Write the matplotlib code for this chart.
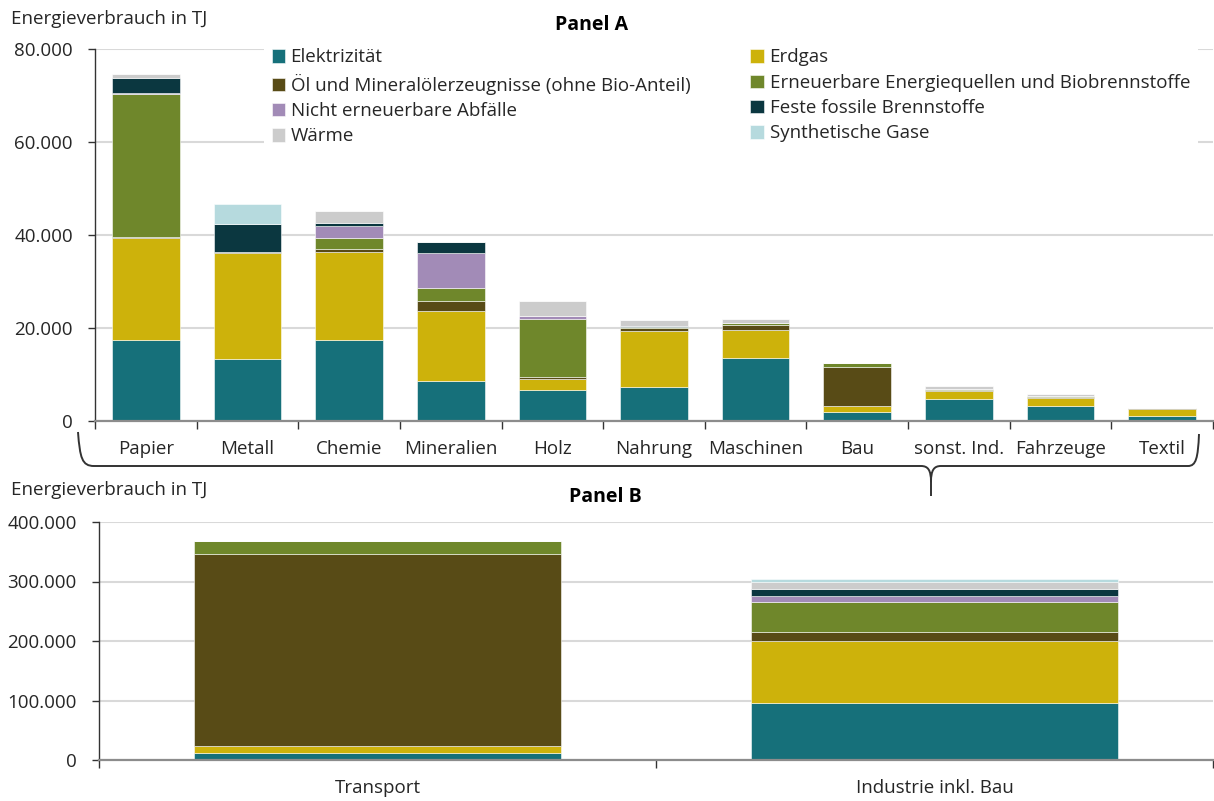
import numpy as np
import matplotlib
matplotlib.use("Agg")
import matplotlib.pyplot as plt
from matplotlib.path import Path
from matplotlib.patches import PathPatch
from matplotlib.ticker import FuncFormatter, FixedLocator

plt.rcParams["font.family"] = ["Open Sans", "DejaVu Sans"]

# Panel A: Industriezweige
branchen = ["Papier", "Metall", "Chemie", "Mineralien", "Holz", "Nahrung",
            "Maschinen", "Bau", "sonst. Ind.", "Fahrzeuge", "Textil"]
elektrizitaet_a = [17400, 13300, 17350, 8600, 6700, 7400, 13500, 1900, 4700, 3200, 1100]
erdgas_a = [22000, 22800, 19000, 15100, 2400, 12000, 6100, 1300, 1700, 1800, 1550]
oel_a = [200, 300, 600, 2200, 300, 500, 1100, 8500, 200, 100, 50]
erneuerbar_a = [30800, 0, 2500, 2700, 12500, 300, 400, 800, 300, 200, 100]
abfaelle_a = [100, 0, 2400, 7600, 700, 100, 0, 0, 0, 0, 0]
fest_fossil_a = [3300, 5900, 700, 2300, 0, 200, 0, 0, 0, 0, 0]
waerme_a = [800, 0, 2700, 0, 3100, 1300, 900, 0, 600, 600, 0]
synth_gase_a = [0, 4400, 0, 0, 0, 0, 0, 0, 0, 0, 0]

# Panel B: Sektoren
sektoren = ["Transport", "Industrie inkl. Bau"]
elektrizitaet_b = [12300, 95200]
erdgas_b = [11200, 105300]
oel_b = [323300, 14100]
erneuerbar_b = [21300, 50900]
abfaelle_b = [0, 10700]
fest_fossil_b = [0, 11200]
waerme_b = [0, 12300]
synth_gase_b = [0, 4500]

traeger = ["Elektrizität", "Öl und Mineralölerzeugnisse (ohne Bio-Anteil)",
           "Nicht erneuerbare Abfälle", "Wärme", "Erdgas",
           "Erneuerbare Energiequellen und Biobrennstoffe",
           "Feste fossile Brennstoffe", "Synthetische Gase"]
farben = {
    "Elektrizität": "#16707a",
    "Erdgas": "#cdb20b",
    "Öl und Mineralölerzeugnisse (ohne Bio-Anteil)": "#584b16",
    "Erneuerbare Energiequellen und Biobrennstoffe": "#6f872b",
    "Nicht erneuerbare Abfälle": "#a28bb7",
    "Feste fossile Brennstoffe": "#0b3740",
    "Wärme": "#cccccc",
    "Synthetische Gase": "#b6dade",
}
stapel_reihenfolge = ["Elektrizität", "Erdgas",
                      "Öl und Mineralölerzeugnisse (ohne Bio-Anteil)",
                      "Erneuerbare Energiequellen und Biobrennstoffe",
                      "Nicht erneuerbare Abfälle", "Feste fossile Brennstoffe",
                      "Wärme", "Synthetische Gase"]
serien_a = dict(zip(stapel_reihenfolge, [elektrizitaet_a, erdgas_a, oel_a, erneuerbar_a,
                                         abfaelle_a, fest_fossil_a, waerme_a, synth_gase_a]))
serien_b = dict(zip(stapel_reihenfolge, [elektrizitaet_b, erdgas_b, oel_b, erneuerbar_b,
                                         abfaelle_b, fest_fossil_b, waerme_b, synth_gase_b]))

TXT = "#262626"
FS = 13.5
W, H = 1214, 801


def tausender(v, pos):
    return f"{int(v):,}".replace(",", ".")


def gestapelt(ax, namen, serien, breite):
    x = np.arange(len(namen))
    unten = np.zeros(len(namen))
    handles = {}
    for key in stapel_reihenfolge:
        werte = np.array(serien[key], dtype=float)
        b = ax.bar(x, werte, breite, bottom=unten, color=farben[key],
                   edgecolor=(1, 1, 1, 0.55), linewidth=0.7, label=key, zorder=3)
        handles[key] = b
        unten += werte
    return handles


def achse_stil(ax, n, ymax, step):
    ax.set_xlim(-0.5, n - 0.5)
    ax.set_ylim(0, ymax)
    ax.yaxis.set_major_locator(FixedLocator(np.arange(0, ymax + 1, step)))
    ax.yaxis.set_major_formatter(FuncFormatter(tausender))
    ax.grid(axis="y", color="#d9d9d9", linewidth=1.5, zorder=0)
    ax.set_axisbelow(True)
    for s in ["top", "right"]:
        ax.spines[s].set_visible(False)
    ax.spines["bottom"].set_color("#8c8c8c")
    ax.spines["bottom"].set_linewidth(1.6)
    ax.spines["bottom"].set_zorder(4)
    ax.spines["left"].set_color("#333333")
    ax.spines["left"].set_linewidth(1.0)
    ax.tick_params(axis="y", length=5, width=1, color="#333333", pad=11,
                   labelsize=FS, labelcolor=TXT)
    ax.set_xticks(np.arange(n))
    ax.set_xticks(np.arange(-0.5, n, 1.0), minor=True)
    ax.tick_params(axis="x", which="major", length=0, pad=14, labelsize=FS, labelcolor=TXT)
    ax.tick_params(axis="x", which="minor", length=6, width=1, color="#333333")


fig = plt.figure(figsize=(W / 100, H / 100), dpi=100)

# Panel A
axa = fig.add_axes([95 / W, 1 - 421 / H, (1213 - 95) / W, (421 - 49) / H])
hd = gestapelt(axa, branchen, serien_a, 0.665)
achse_stil(axa, len(branchen), 80000, 20000)
axa.set_xticklabels(branchen)

leg = axa.legend([hd[k] for k in traeger], traeger, ncol=2, loc="upper left",
                 bbox_to_anchor=(264 / W, 1 - 41 / H), bbox_transform=fig.transFigure,
                 fontsize=FS, frameon=True, facecolor="white", edgecolor="none",
                 framealpha=1, fancybox=False, handlelength=0.72, handleheight=0.72,
                 handletextpad=0.3, labelspacing=0.39, columnspacing=3.2,
                 borderpad=0.4, borderaxespad=0, labelcolor=TXT)
leg.set_zorder(5)

# Panel B
axb = fig.add_axes([99 / W, 1 - 760 / H, (1213 - 99) / W, (760 - 522) / H])
gestapelt(axb, sektoren, serien_b, 0.66)
achse_stil(axb, len(sektoren), 400000, 100000)
axb.set_xticklabels(sektoren)

# Texte
fig.text(11 / W, 1 - 19 / H, "Energieverbrauch in TJ", fontsize=FS, color=TXT,
         ha="left", va="center")
fig.text(592 / W, 1 - 25 / H, "Panel A", fontsize=FS + 0.5, fontweight="bold",
         color="black", ha="center", va="center")
fig.text(11 / W, 1 - 490 / H, "Energieverbrauch in TJ", fontsize=FS, color=TXT,
         ha="left", va="center")
fig.text(605 / W, 1 - 497 / H, "Panel B", fontsize=FS + 0.5, fontweight="bold",
         color="black", ha="center", va="center")

# geschweifte Klammer unter Panel A
ov = fig.add_axes([0, 0, 1, 1], facecolor="none")
ov.set_xlim(0, W)
ov.set_ylim(H, 0)
ov.axis("off")
yb, xt = 466, 931
verts = [(78, 432), (80, 458), (82, yb), (94, yb),
         (xt - 10, yb),
         (xt - 3, yb), (xt, yb + 4), (xt, yb + 16),
         (xt, 496),
         (xt, yb + 16),
         (xt, yb + 4), (xt + 3, yb), (xt + 10, yb),
         (1188, yb),
         (1196, yb), (1198, 458), (1199, 434)]
codes = [Path.MOVETO, Path.CURVE4, Path.CURVE4, Path.CURVE4,
         Path.LINETO,
         Path.CURVE4, Path.CURVE4, Path.CURVE4,
         Path.LINETO,
         Path.MOVETO,
         Path.CURVE4, Path.CURVE4, Path.CURVE4,
         Path.LINETO,
         Path.CURVE4, Path.CURVE4, Path.CURVE4]
ov.add_patch(PathPatch(Path(verts, codes), facecolor="none", edgecolor="#333333",
                       linewidth=1.4))

fig.savefig("out.png", dpi=100)
